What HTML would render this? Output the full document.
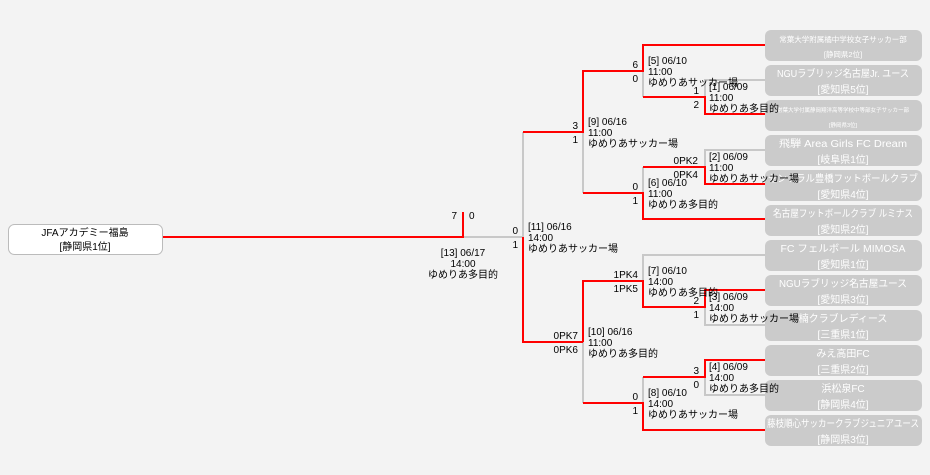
<!DOCTYPE html>
<html><head><meta charset="utf-8"><style>
html,body{margin:0;padding:0;background:#f3f3f3;}
svg{display:block;font-family:"Liberation Sans","Noto Sans CJK JP",sans-serif;}
.t{font-size:10px;fill:#000}
.b text{fill:#fff;font-size:10px;text-anchor:middle}
</style></head><body>
<svg width="930" height="475" viewBox="0 0 930 475" xmlns="http://www.w3.org/2000/svg">
<rect width="930" height="475" fill="#f3f3f3"/>
<g class="b">
<rect x="765" y="30" width="157" height="31" rx="6" fill="#cbcbcb"/>
<text x="843" y="42" style="font-size:7.5px">常葉大学附属橘中学校女子サッカー部</text><text x="843" y="57" style="font-size:7.5px">[静岡県2位]</text>
<rect x="765" y="65" width="157" height="31" rx="6" fill="#cbcbcb"/>
<text x="843" y="77" textLength="132" lengthAdjust="spacingAndGlyphs">NGUラブリッジ名古屋Jr. ユース</text><text x="843" y="93">[愛知県5位]</text>
<rect x="765" y="100" width="157" height="31" rx="6" fill="#cbcbcb"/>
<text x="843" y="112" style="font-size:5.5px">常葉大学付属静岡翔洋高等学校中等部女子サッカー部</text><text x="843" y="127" style="font-size:5.5px">[静岡県3位]</text>
<rect x="765" y="135" width="157" height="31" rx="6" fill="#cbcbcb"/>
<text x="843" y="147" textLength="128" lengthAdjust="spacingAndGlyphs">飛騨 Area Girls FC Dream</text><text x="843" y="163">[岐阜県1位]</text>
<rect x="765" y="170" width="157" height="31" rx="6" fill="#cbcbcb"/>
<text x="843" y="182" textLength="150" lengthAdjust="spacingAndGlyphs">セントラル豊橋フットボールクラブ</text><text x="843" y="198">[愛知県4位]</text>
<rect x="765" y="205" width="157" height="31" rx="6" fill="#cbcbcb"/>
<text x="843" y="217" textLength="140" lengthAdjust="spacingAndGlyphs">名古屋フットボールクラブ ルミナス</text><text x="843" y="233">[愛知県2位]</text>
<rect x="765" y="240" width="157" height="31" rx="6" fill="#cbcbcb"/>
<text x="843" y="252" textLength="125" lengthAdjust="spacingAndGlyphs">FC フェルボール MIMOSA</text><text x="843" y="268">[愛知県1位]</text>
<rect x="765" y="275" width="157" height="31" rx="6" fill="#cbcbcb"/>
<text x="843" y="287" textLength="128" lengthAdjust="spacingAndGlyphs">NGUラブリッジ名古屋ユース</text><text x="843" y="303">[愛知県3位]</text>
<rect x="765" y="310" width="157" height="31" rx="6" fill="#cbcbcb"/>
<text x="843" y="322">楠クラブレディース</text><text x="843" y="338">[三重県1位]</text>
<rect x="765" y="345" width="157" height="31" rx="6" fill="#cbcbcb"/>
<text x="843" y="357">みえ高田FC</text><text x="843" y="373">[三重県2位]</text>
<rect x="765" y="380" width="157" height="31" rx="6" fill="#cbcbcb"/>
<text x="843" y="392">浜松泉FC</text><text x="843" y="408">[静岡県4位]</text>
<rect x="765" y="415" width="157" height="31" rx="6" fill="#cbcbcb"/>
<text x="843" y="427" textLength="152" lengthAdjust="spacingAndGlyphs">藤枝順心サッカークラブジュニアユース</text><text x="843" y="443">[静岡県3位]</text>
</g>
<rect x="8.5" y="224.5" width="154" height="30" rx="6" fill="#fff" stroke="#bbb"/>
<text class="t" x="85" y="236" text-anchor="middle">JFAアカデミー福島</text>
<text class="t" x="85" y="250" text-anchor="middle">[静岡県1位]</text>
<g fill="none" stroke-width="2" stroke="#c8c8c8">
<path d="M463 237H523V132M583 132V193M643 71V97M705 97V80H765M643 193V167M705 167V150H765M583 342V403M643 281V255H765M705 307V325H765M643 403V377M705 377V395H765"/>
</g>
<g fill="none" stroke-width="2" stroke="#f00">
<path d="M163 237H463V212M523 237V342H583M523 132H583V71H643V45H765M643 97H705V114H765M583 193H643V219H765M643 167H705V184H765M583 342V281H643V307H705V290H765M583 403H643V430H765M643 377H705V360H765"/>
</g>
<g class="t">
<text x="457" y="219" text-anchor="end">7</text><text x="469" y="219">0</text>
<g text-anchor="middle"><text x="463" y="256">[13] 06/17</text><text x="463" y="267">14:00</text><text x="463" y="278">ゆめりあ多目的</text></g>
<g text-anchor="end">
<text x="518" y="234">0</text><text x="518" y="248">1</text>
<text x="578" y="129">3</text><text x="578" y="143">1</text>
<text x="578" y="339">0PK7</text><text x="578" y="353">0PK6</text>
<text x="638" y="68">6</text><text x="638" y="82">0</text>
<text x="638" y="190">0</text><text x="638" y="204">1</text>
<text x="638" y="278">1PK4</text><text x="638" y="292">1PK5</text>
<text x="638" y="400">0</text><text x="638" y="414">1</text>
<text x="699" y="94">1</text><text x="699" y="108">2</text>
<text x="698" y="164">0PK2</text><text x="698" y="178">0PK4</text>
<text x="699" y="304">2</text><text x="699" y="318">1</text>
<text x="699" y="374">3</text><text x="699" y="388">0</text>
</g>
<text x="528" y="230">[11] 06/16</text><text x="528" y="241">14:00</text><text x="528" y="252">ゆめりあサッカー場</text>
<text x="588" y="125">[9] 06/16</text><text x="588" y="136">11:00</text><text x="588" y="147">ゆめりあサッカー場</text>
<text x="588" y="335">[10] 06/16</text><text x="588" y="346">11:00</text><text x="588" y="357">ゆめりあ多目的</text>
<text x="648" y="64">[5] 06/10</text><text x="648" y="75">11:00</text><text x="648" y="86">ゆめりあサッカー場</text>
<text x="648" y="186">[6] 06/10</text><text x="648" y="197">11:00</text><text x="648" y="208">ゆめりあ多目的</text>
<text x="648" y="274">[7] 06/10</text><text x="648" y="285">14:00</text><text x="648" y="296">ゆめりあ多目的</text>
<text x="648" y="396">[8] 06/10</text><text x="648" y="407">14:00</text><text x="648" y="418">ゆめりあサッカー場</text>
<text x="709" y="90">[1] 06/09</text><text x="709" y="101">11:00</text><text x="709" y="112">ゆめりあ多目的</text>
<text x="709" y="160">[2] 06/09</text><text x="709" y="171">11:00</text><text x="709" y="182">ゆめりあサッカー場</text>
<text x="709" y="300">[3] 06/09</text><text x="709" y="311">14:00</text><text x="709" y="322">ゆめりあサッカー場</text>
<text x="709" y="370">[4] 06/09</text><text x="709" y="381">14:00</text><text x="709" y="392">ゆめりあ多目的</text>
</g>
</svg>
</body></html>
